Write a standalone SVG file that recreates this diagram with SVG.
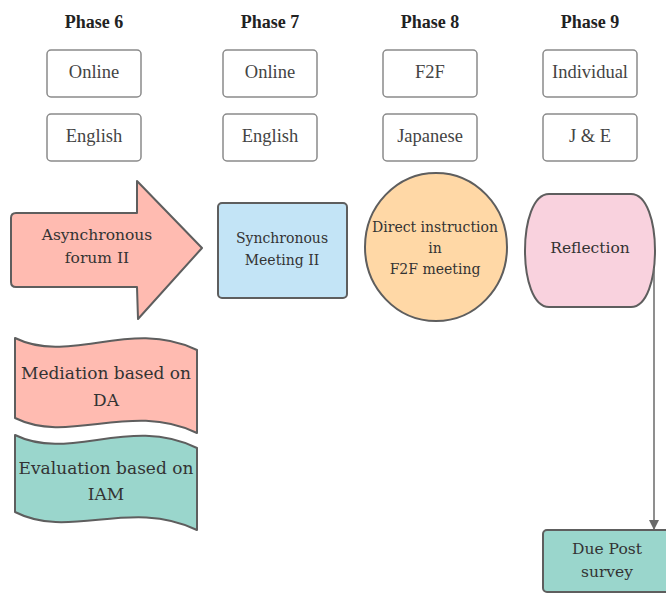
<svg xmlns="http://www.w3.org/2000/svg" width="666" height="593" viewBox="0 0 666 593">
<defs>
<style>
.hdr{font-family:"Liberation Serif",serif;font-weight:bold;font-size:18px;fill:#222;text-anchor:middle}
.box{fill:#fff;stroke:#8a8a8a;stroke-width:1.5}
.bt{font-family:"Liberation Serif",serif;font-size:18.5px;fill:#444;text-anchor:middle}
.shp{stroke:#5e5e5e;stroke-width:2;stroke-linejoin:round}
.st{font-family:"DejaVu Serif",serif;fill:#333;text-anchor:middle}
.conn{stroke:#6a6a6a;stroke-width:1.5;fill:none}
</style>
<marker id="ah" markerWidth="10" markerHeight="10" refX="9" refY="5" orient="auto" markerUnits="userSpaceOnUse">
<path d="M0,0 L10,5 L0,10 Z" fill="#6a6a6a"/>
</marker>
</defs>
<rect width="666" height="593" fill="#fff"/>

<g id="headers">
<text class="hdr" x="94" y="28">Phase 6</text>
<text class="hdr" x="270" y="28">Phase 7</text>
<text class="hdr" x="430" y="28">Phase 8</text>
<text class="hdr" x="590" y="28">Phase 9</text>
</g>

<g id="p6-online"><rect class="box" x="47" y="50" width="94" height="47" rx="4"/><text class="bt" x="94" y="78">Online</text></g>
<g id="p6-english"><rect class="box" x="47" y="114" width="94" height="47" rx="4"/><text class="bt" x="94" y="142">English</text></g>
<g id="p7-online"><rect class="box" x="223" y="50" width="94" height="47" rx="4"/><text class="bt" x="270" y="78">Online</text></g>
<g id="p7-english"><rect class="box" x="223" y="114" width="94" height="47" rx="4"/><text class="bt" x="270" y="142">English</text></g>
<g id="p8-f2f"><rect class="box" x="383" y="50" width="94" height="47" rx="4"/><text class="bt" x="430" y="78">F2F</text></g>
<g id="p8-japanese"><rect class="box" x="383" y="114" width="94" height="47" rx="4"/><text class="bt" x="430" y="142">Japanese</text></g>
<g id="p9-individual"><rect class="box" x="543" y="50" width="94" height="47" rx="4"/><text class="bt" x="590" y="78">Individual</text></g>
<g id="p9-je"><rect class="box" x="543" y="114" width="94" height="47" rx="4"/><text class="bt" x="590" y="142">J &amp; E</text></g>

<g id="async-forum">
<path class="shp" fill="#ffbbb1" d="M16,213 L137,213 L137,181 L202,248 L138,319 L137,287 L16,287 Q11,287 11,282 L11,218 Q11,213 16,213 Z"/>
<text class="st" font-size="15.5" x="97" y="240">Asynchronous</text>
<text class="st" font-size="15.5" x="97" y="263">forum II</text>
</g>

<g id="mediation">
<path class="shp" fill="#ffbbb1" d="M15,338 C70,365 130,318 197,350 L197,433 C130,401 70,445 15,418 Z"/>
<text class="st" font-size="17" x="106" y="379">Mediation based on</text>
<text class="st" font-size="17" x="106" y="406">DA</text>
</g>

<g id="evaluation">
<path class="shp" fill="#9ad6cc" d="M15,435 C70,462 130,415 197,448 L197,530 C130,498 70,540 15,512 Z"/>
<text class="st" font-size="17" x="106" y="474">Evaluation based on</text>
<text class="st" font-size="17" x="106" y="500">IAM</text>
</g>

<g id="sync-meeting">
<rect class="shp" fill="#c3e4f6" x="218" y="203" width="129" height="95" rx="4"/>
<text class="st" font-size="14" x="282" y="243">Synchronous</text>
<text class="st" font-size="14" x="282" y="265">Meeting II</text>
</g>

<g id="direct-instruction">
<ellipse class="shp" fill="#ffd8a6" cx="436" cy="247" rx="71" ry="74"/>
<text class="st" font-size="14" x="435" y="232">Direct instruction</text>
<text class="st" font-size="14" x="435" y="253">in</text>
<text class="st" font-size="14" x="435" y="274">F2F meeting</text>
</g>

<g id="reflection">
<path class="shp" fill="#f9d2de" d="M549,194 L631,194 C663,194 663,307 631,307 L549,307 C517,307 517,194 549,194 Z"/>
<text class="st" font-size="15.5" x="590" y="253">Reflection</text>
</g>

<g id="due-post">
<rect class="shp" fill="#9ad6cc" x="543" y="530" width="130" height="62" rx="4"/>
<text class="st" font-size="15.5" x="607" y="554">Due Post</text>
<text class="st" font-size="15.5" x="607" y="577">survey</text>
</g>

<g id="connectors">
<path class="conn" d="M654,268 L654,529" marker-end="url(#ah)"/>
</g>
</svg>
